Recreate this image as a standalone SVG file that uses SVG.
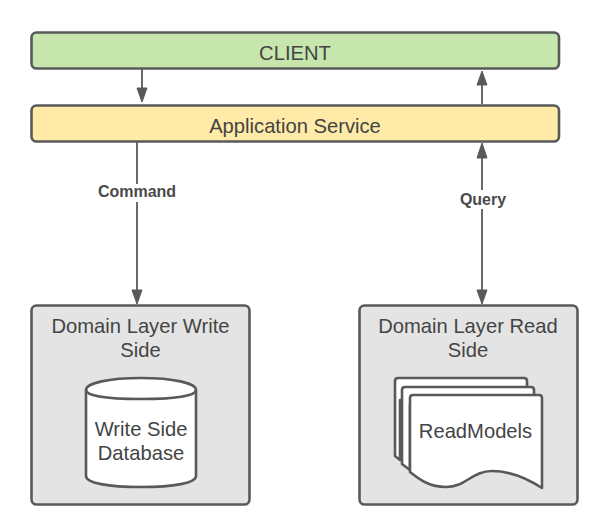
<svg xmlns="http://www.w3.org/2000/svg" width="592" height="528" viewBox="0 0 592 528">
<style>
text{font-family:"Liberation Sans",Arial,sans-serif;fill:#444;text-anchor:middle;font-size:20.200px}
.s{stroke:#595959;stroke-width:2.6;stroke-linejoin:round}
.l{font-weight:bold;font-size:16px;fill:#4a4a4a}
.c{stroke:#595959;stroke-width:1.8;fill:none}
.h{fill:#595959;stroke:#595959;stroke-width:1}
</style>
<rect width="592" height="528" fill="#fff"/>
<g id="client"><rect class="s" x="31.500" y="32.500" width="527.500" height="36" rx="5" fill="#c7e6ae"/><text x="295" y="59.500">CLIENT</text></g>
<g id="app-service"><rect class="s" x="31.500" y="105.500" width="527.500" height="36" rx="5" fill="#ffeaa8"/><text x="295" y="132.500">Application Service</text></g>
<g id="write-side"><rect class="s" x="31.500" y="305.500" width="218" height="199" rx="5" fill="#e4e4e4"/><text x="140.500" y="333">Domain Layer Write</text><text x="140.500" y="357">Side</text>
<path class="s" fill="#fff" d="M86 390V476C86 483 108 487 141 487S196 483 196 476V390C196 383 173 378 141 378S86 383 86 390Z"/><path class="s" fill="none" d="M86 390C86 396 108 399 141 399S196 396 196 390"/><text x="141" y="436">Write Side</text><text x="141" y="460">Database</text></g>
<g id="read-side"><rect class="s" x="359.500" y="305.500" width="218" height="199" rx="5" fill="#e4e4e4"/><text x="468" y="333">Domain Layer Read</text><text x="468" y="357">Side</text>
<path class="s" fill="#fff" d="M395 456V381Q395 378 398 378H524Q527 378 527 381V400H400V460Z"/>
<path class="s" fill="#fff" d="M402 464V390Q402 387 405 387H531Q534 387 534 390V405H410V470Z"/>
<path class="s" fill="#fff" d="M410 472V398Q410 395 413 395H539Q542 395 542 398V488C525 477 508 471 492 471C472 471 466 487 446 487C430 487 420 480 410 472Z"/>
<text x="475.500" y="438">ReadModels</text></g>
<g id="connectors">
<path class="c" d="M142 69V92"/><path class="h" d="M142 102L137 88H147Z"/>
<path class="c" d="M482 104V84"/><path class="h" d="M482 71L477 85H487Z"/>
<path class="c" d="M137 142V184M137 202V292"/><path class="h" d="M137 304L132 290H142Z"/>
<path class="c" d="M482 156V190M482 209V292"/><path class="h" d="M482 143L477 158H487Z"/><path class="h" d="M482 304L477 290H487Z"/>
<text class="l" x="137" y="197">Command</text><text class="l" x="483" y="205">Query</text>
</g>
</svg>
